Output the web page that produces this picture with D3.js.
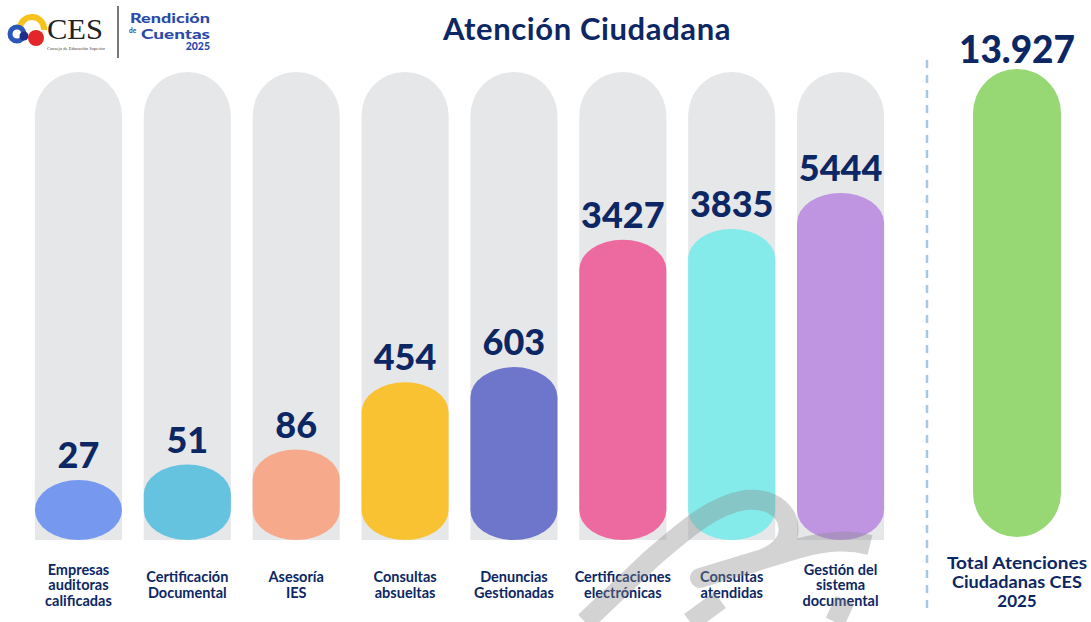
<!DOCTYPE html>
<html><head><meta charset="utf-8">
<script src="https://cdn.jsdelivr.net/npm/d3@7"></script>
<style>
html,body{margin:0;padding:0;background:#fff;}
svg{display:block;font-family:Lato,"Open Sans",sans-serif;}
</style></head>
<body>
<svg id="c" width="1091" height="622"></svg>
<script>
const categories = [
  ["Empresas","auditoras","calificadas"],
  ["Certificación","Documental"],
  ["Asesoría","IES"],
  ["Consultas","absueltas"],
  ["Denuncias","Gestionadas"],
  ["Certificaciones","electrónicas"],
  ["Consultas","atendidas"],
  ["Gestión del","sistema","documental"]
];
const values = [27, 51, 86, 454, 603, 3427, 3835, 5444];
const colors = ["#7698ee","#66c3e0","#f6aa8b","#f8c233","#6e76cc","#ec6aa0","#84eaea","#bf95e2"];
const totalLabel = ["Total Atenciones","Ciudadanas CES","2025"];
const totalValue = "13.927";
const title = "Atención Ciudadana";

const svg = d3.select("#c");
const navy = "#0c2763";

const x = d3.scaleBand().domain(d3.range(values.length)).range([24, 895]).paddingInner(0.2).paddingOuter(0.1);
const bw = x.bandwidth();
const yBase = 540;
const y = d3.scalePow().exponent(0.3).domain(d3.extent(values)).range([480, 193]);

const g = svg.append("g");
// grey background pills
g.selectAll("rect.bg").data(values).join("rect")
  .attr("class","bg")
  .attr("x",(d,i)=>x(i)).attr("width",bw)
  .attr("y",72).attr("height",yBase-72)
  .attr("rx",bw/2).attr("ry",bw/2)
  .attr("fill","#e6e7e9");
g.selectAll("rect.bgb").data(values).join("rect")
  .attr("x",(d,i)=>x(i)).attr("width",bw)
  .attr("y",yBase-60).attr("height",60)
  .attr("fill","#e6e7e9");

// colored bars
g.selectAll("rect.bar").data(values).join("rect")
  .attr("class","bar")
  .attr("x",(d,i)=>x(i)).attr("width",bw)
  .attr("y",d=>y(d)).attr("height",d=>yBase-y(d))
  .attr("rx",bw/2).attr("ry",30)
  .attr("fill",(d,i)=>colors[i]);

// watermark (decorative, faint)
svg.append("path")
  .attr("d","M585,622 L650,560 C690,525 715,505 745,500 C775,497 792,515 788,535 C784,552 765,560 740,566 L700,578 L800,548 C830,540 850,540 870,545 M690,622 L720,600 M835,622 L845,600")
  .attr("fill","none").attr("stroke","#8c8c8c").attr("stroke-opacity",0.38)
  .attr("stroke-width",20).attr("stroke-linejoin","round");

// values
g.selectAll("text.val").data(values).join("text")
  .attr("x",(d,i)=>x(i)+bw/2).attr("y",d=>y(d)-12)
  .attr("text-anchor","middle").attr("font-size",36).attr("font-weight",900)
  .attr("fill",navy).text(d=>d);

// category labels
categories.forEach((lines,i)=>{
  const n = lines.length;
  const t = g.append("text").attr("text-anchor","middle").attr("font-size",14.5)
    .attr("font-weight",700).attr("fill",navy);
  lines.forEach((l,j)=>{
    t.append("tspan").attr("x",x(i)+bw/2).attr("y",590 + (j-(n-1)/2)*15.5).text(l);
  });
});

// dashed separator
svg.append("line").attr("x1",927).attr("x2",927).attr("y1",60).attr("y2",612)
  .attr("stroke","#a7c7e7").attr("stroke-width",2.5).attr("stroke-dasharray","8,7");

// total pill
svg.append("rect").attr("x",973).attr("y",69).attr("width",88).attr("height",468)
  .attr("rx",44).attr("ry",44).attr("fill","#97d874");
svg.append("text").attr("x",1017).attr("y",63).attr("text-anchor","middle")
  .attr("font-size",37).attr("font-weight",900).attr("fill",navy).text(totalValue);
const tt = svg.append("text").attr("text-anchor","middle").attr("font-size",17)
  .attr("font-weight",700).attr("fill",navy);
totalLabel.forEach((l,j)=>tt.append("tspan").attr("x",1017).attr("y",569+j*19).text(l)
  .attr("textLength", j<2 ? (j===0?140:130) : null).attr("lengthAdjust","spacingAndGlyphs"));

// title
svg.append("text").attr("x",587).attr("y",40).attr("text-anchor","middle")
  .attr("font-size",31).attr("font-weight",700).attr("letter-spacing",0.6)
  .attr("fill",navy).text(title);

// logo
const lg = svg.append("g");
lg.append("path").attr("d","M20,28 A12,12 0 1 1 44,30").attr("fill","none").attr("stroke","#f6c21c").attr("stroke-width",6);
lg.append("circle").attr("cx",17).attr("cy",34).attr("r",7).attr("fill","none").attr("stroke","#2c57b8").attr("stroke-width",5);
lg.append("circle").attr("cx",24).attr("cy",36).attr("r",4.5).attr("fill","#1c2f8a");
lg.append("circle").attr("cx",36).attr("cy",38).attr("r",8).attr("fill","#e2262a");
lg.append("text").attr("x",47).attr("y",39).attr("font-family","'Liberation Serif',serif")
  .attr("font-size",30).attr("textLength",56).attr("lengthAdjust","spacingAndGlyphs")
  .attr("fill","#222").text("CES");
lg.append("text").attr("x",47).attr("y",50).attr("font-family","'Liberation Serif',serif")
  .attr("font-size",4.6).attr("textLength",58).attr("fill","#444").text("Consejo de Educación Superior");
lg.append("line").attr("x1",118).attr("x2",118).attr("y1",6).attr("y2",58).attr("stroke","#777").attr("stroke-width",2);
lg.append("text").attr("x",130).attr("y",23).attr("font-size",14)
  .attr("textLength",80).attr("lengthAdjust","spacingAndGlyphs")
  .attr("font-weight",900).attr("fill","#2a4aa8").text("Rendición");
lg.append("text").attr("x",129).attr("y",33).attr("font-size",6.5)
  .attr("font-weight",700).attr("fill","#2a4aa8").text("de");
lg.append("text").attr("x",141).attr("y",39).attr("font-size",14)
  .attr("textLength",69).attr("lengthAdjust","spacingAndGlyphs")
  .attr("font-weight",900).attr("fill","#2a4aa8").text("Cuentas");
lg.append("text").attr("x",210).attr("y",50).attr("text-anchor","end").attr("font-size",10.5)
  .attr("font-weight",900).attr("fill","#2a4aa8").text("2025");
</script>
</body></html>
